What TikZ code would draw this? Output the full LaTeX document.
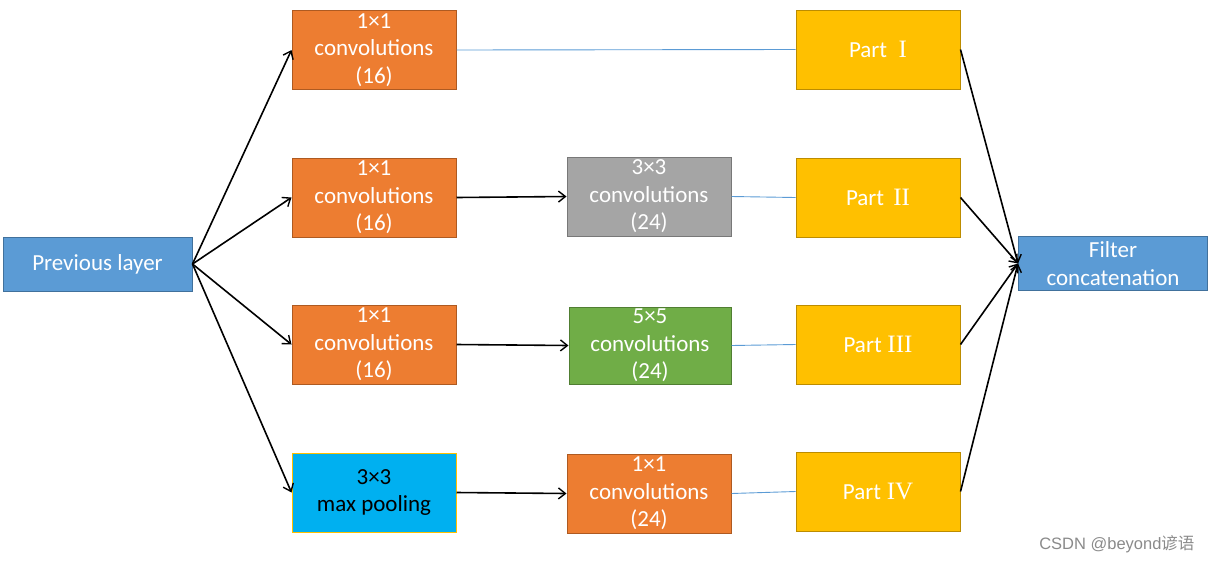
\documentclass[tikz,border=0pt]{standalone}
\usepackage{fontspec}
\setmainfont{Carlito}
\newfontfamily\romanfont{Liberation Serif}
\newfontfamily\cjkfont{Noto Sans CJK SC}
\newfontfamily\wmfont{Liberation Sans}
\usetikzlibrary{arrows.meta}
\definecolor{orangeF}{HTML}{ED7D31}
\definecolor{orangeB}{HTML}{AE5A21}
\definecolor{goldF}{HTML}{FFC000}
\definecolor{goldB}{HTML}{BC8C00}
\definecolor{blueF}{HTML}{5B9BD5}
\definecolor{blueB}{HTML}{41719C}
\definecolor{grayF}{HTML}{A5A5A5}
\definecolor{grayB}{HTML}{787878}
\definecolor{greenF}{HTML}{70AD47}
\definecolor{greenB}{HTML}{507E32}
\definecolor{cyanF}{HTML}{00B0F0}
\definecolor{linkC}{HTML}{5B9BD5}
\definecolor{wmC}{HTML}{8A8A8A}
\tikzset{
  box/.style={draw, line width=1pt, minimum width=164pt, minimum height=79pt, inner sep=0pt,
    align=center, text=white, font=\fontsize{23}{27.5}\selectfont},
  wide/.style={box, minimum width=189pt, minimum height=54pt},
  orangebox/.style={box, fill=orangeF, draw=orangeB},
  goldbox/.style={box, fill=goldF, draw=goldB},
  graybox/.style={box, fill=grayF, draw=grayB},
  greenbox/.style={box, fill=greenF, draw=greenB, minimum width=162pt, minimum height=77pt},
  cyanbox/.style={box, fill=cyanF, draw=goldF, text=black},
  bluebox/.style={wide, fill=blueF, draw=blueB},
  arr/.style={draw=black, line width=1.6pt, -{Straight Barb[length=7pt,width=11pt,line width=1.4pt]}},
  link/.style={draw=linkC, line width=0.9pt},
  rn/.style={},
}
\newcommand{\rnum}[1]{{\romanfont\fontsize{25}{27.5}\selectfont #1}}
\begin{document}
\begin{tikzpicture}[x=1pt,y=-1pt]
\useasboundingbox (0,0) rectangle (1212,563);
\node[bluebox] (prev) at (97.5,264) {Previous layer};
\node[orangebox] (c11) at (374,50) {1×1\\convolutions\\(16)};
\node[orangebox] (c21) at (374,197.5) {1×1\\convolutions\\(16)};
\node[orangebox] (c31) at (374,344.5) {1×1\\convolutions\\(16)};
\node[cyanbox] (c41) at (374,492.5) {3×3\\max pooling};
\node[graybox] (c22) at (649,196.5) {3×3\\convolutions\\(24)};
\node[greenbox] (c32) at (650,345.5) {5×5\\convolutions\\(24)};
\node[orangebox] (c42) at (649,493.5) {1×1\\convolutions\\(24)};
\node[goldbox] (p1) at (878,49.5) {Part\hspace{0.5em}\rnum{I}};
\node[goldbox] (p2) at (878,197.5) {Part\hspace{0.4em}\rnum{II}};
\node[goldbox] (p3) at (878,344.5) {Part\hspace{0.25em}\rnum{III}};
\node[goldbox] (p4) at (878,491.5) {Part\hspace{0.25em}\rnum{IV}};
\node[bluebox] (fc) at (1113,263.5) {Filter\\concatenation};
\node[anchor=east, text=wmC, font=\wmfont\fontsize{16.5}{18}\selectfont] (wm) at (1198,544) {CSDN @beyond{\cjkfont 谚语}};
% arrows from previous layer
\draw[arr] (prev.east) -- (c11.west);
\draw[arr] (prev.east) -- (c21.west);
\draw[arr] (prev.east) -- (c31.west);
\draw[arr] (prev.east) -- (c41.west);
% horizontal arrows
\draw[arr] (c21.east) -- (c22.west);
\draw[arr] (c31.east) -- (c32.west);
\draw[arr] (c41.east) -- (c42.west);
% thin links
\draw[link] (c11.east) -- (p1.west);
\draw[link] (c22.east) -- (p2.west);
\draw[link] (c32.east) -- (p3.west);
\draw[link] (c42.east) -- (p4.west);
% to filter concatenation
\draw[arr] (p1.east) -- (fc.west);
\draw[arr] (p2.east) -- (fc.west);
\draw[arr] (p3.east) -- (fc.west);
\draw[arr] (p4.east) -- (fc.west);
\end{tikzpicture}
\end{document}
